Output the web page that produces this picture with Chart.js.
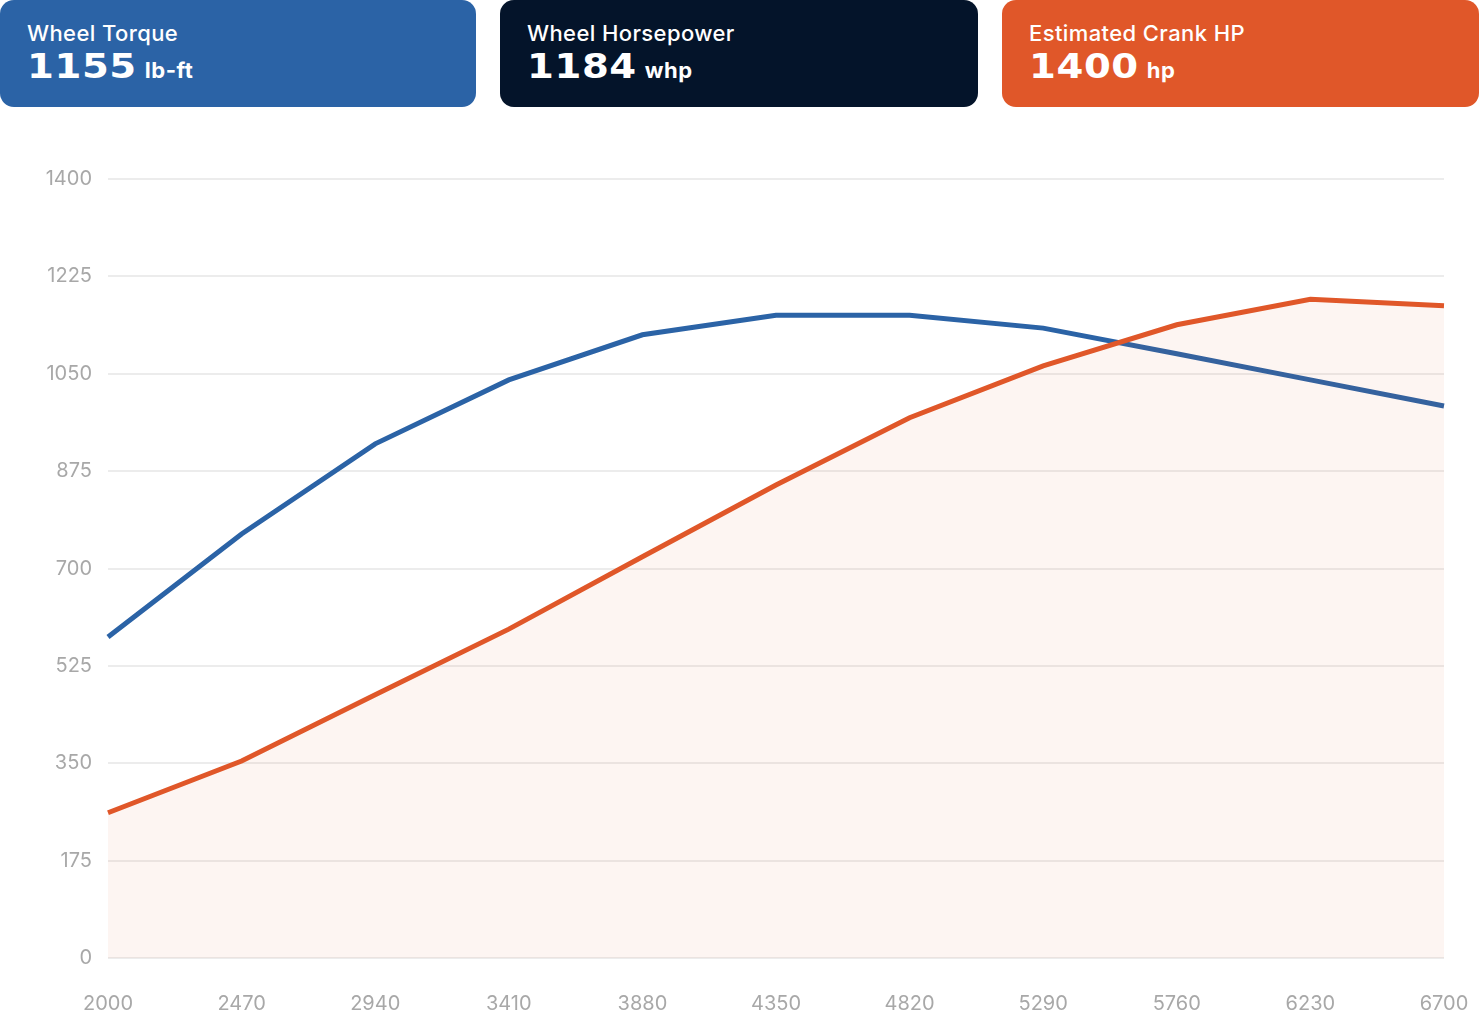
<!DOCTYPE html>
<html>
<head>
<meta charset="utf-8">
<script src="https://cdn.jsdelivr.net/npm/chart.js@4.4.1/dist/chart.umd.min.js"></script>
<style>
    body { margin: 0; background: #ffffff; width: 1480px; height: 1016px; overflow: hidden; font-family: "Inter", sans-serif; }
    .card { position: absolute; top: 0; height: 107px; border-radius: 14px; color: #ffffff; }
    .card .label { position: absolute; left: 27px; top: 20px; font-size: 22px; font-weight: 500; letter-spacing: 0.4px; }
    .card .value { position: absolute; left: 27px; top: 47px; white-space: nowrap; }
    .card .num { display: inline-block; font-family: "DejaVu Sans", sans-serif; font-weight: 700; font-size: 33px; transform: scaleX(1.17); transform-origin: left center; letter-spacing: 0.5px; }
    .card .unit { display: inline-block; font-size: 22px; font-weight: 700; margin-left: 24px; letter-spacing: 0.5px; }
    #chartBox { position: absolute; left: 0; top: 151px; width: 1480px; height: 899px; }
</style>
</head>
<body>

<div class="card" style="left:0; width:476px; background:#2b63a6;">
    <div class="label">Wheel Torque</div>
    <div class="value"><span class="num">1155</span><span class="unit">lb-ft</span></div>
</div>
<div class="card" style="left:500px; width:478px; background:#04142a;">
    <div class="label">Wheel Horsepower</div>
    <div class="value"><span class="num">1184</span><span class="unit">whp</span></div>
</div>
<div class="card" style="left:1002px; width:477px; background:#e05729;">
    <div class="label">Estimated Crank HP</div>
    <div class="value"><span class="num">1400</span><span class="unit">hp</span></div>
</div>

<div id="chartBox"><canvas id="dynoChart"></canvas></div>

<script>
// rpm points along the bottom
const rpmLabels = [2000, 2470, 2940, 3410, 3880, 4350, 4820, 5290, 5760, 6230, 6700]

// wheel torque (lb-ft)
const torqueValues = [577, 762, 924, 1039, 1120, 1155, 1155, 1132, 1086, 1039, 992]

// wheel horsepower
const hpValues = [261, 354, 473, 591, 721, 850, 971, 1064, 1138, 1184, 1172]

const yMax = 1400
const yStep = 175

const tickFont = { family: 'Inter', size: 20 }

const dataChart = {
    labels: rpmLabels,
    datasets: [
        {
            label: 'Wheel Horsepower',
            data: hpValues,
            borderColor: '#e05729',
            backgroundColor: 'rgba(224, 87, 41, 0.06)',
            borderWidth: 5,
            fill: 'origin',
            pointRadius: 0,
            tension: 0,
            order: 0
        },
        {
            label: 'Wheel Torque',
            data: torqueValues,
            borderColor: '#2b63a6',
            borderWidth: 5,
            fill: false,
            pointRadius: 0,
            tension: 0,
            order: 1
        }
    ]
}

const config = {
    type: 'line',
    data: dataChart,
    options: {
        responsive: true,
        maintainAspectRatio: false,
        animation: false,
        layout: { padding: { left: 0, right: 36, top: 8, bottom: 0 } },
        plugins: {
            legend: { display: false },
            tooltip: { enabled: false }
        },
        scales: {
            x: {
                offset: false,
                afterFit: (scale) => { scale.paddingLeft = 0; scale.paddingRight = 0 },
                grid: { display: false, drawTicks: false },
                border: { display: false },
                ticks: { color: '#a8a8a8', font: tickFont, padding: 34, maxRotation: 0, autoSkip: false }
            },
            y: {
                min: 0,
                max: yMax,
                afterFit: (scale) => { scale.width = 108 },
                grid: { color: '#ececec', lineWidth: 2, drawTicks: false },
                border: { display: false },
                ticks: {
                    stepSize: yStep,
                    color: '#a8a8a8',
                    font: tickFont,
                    padding: 16,
                    callback: (value) => String(value)
                }
            }
        }
    }
}

const myChart = new Chart(document.getElementById('dynoChart'), config)
</script>
</body>
</html>
